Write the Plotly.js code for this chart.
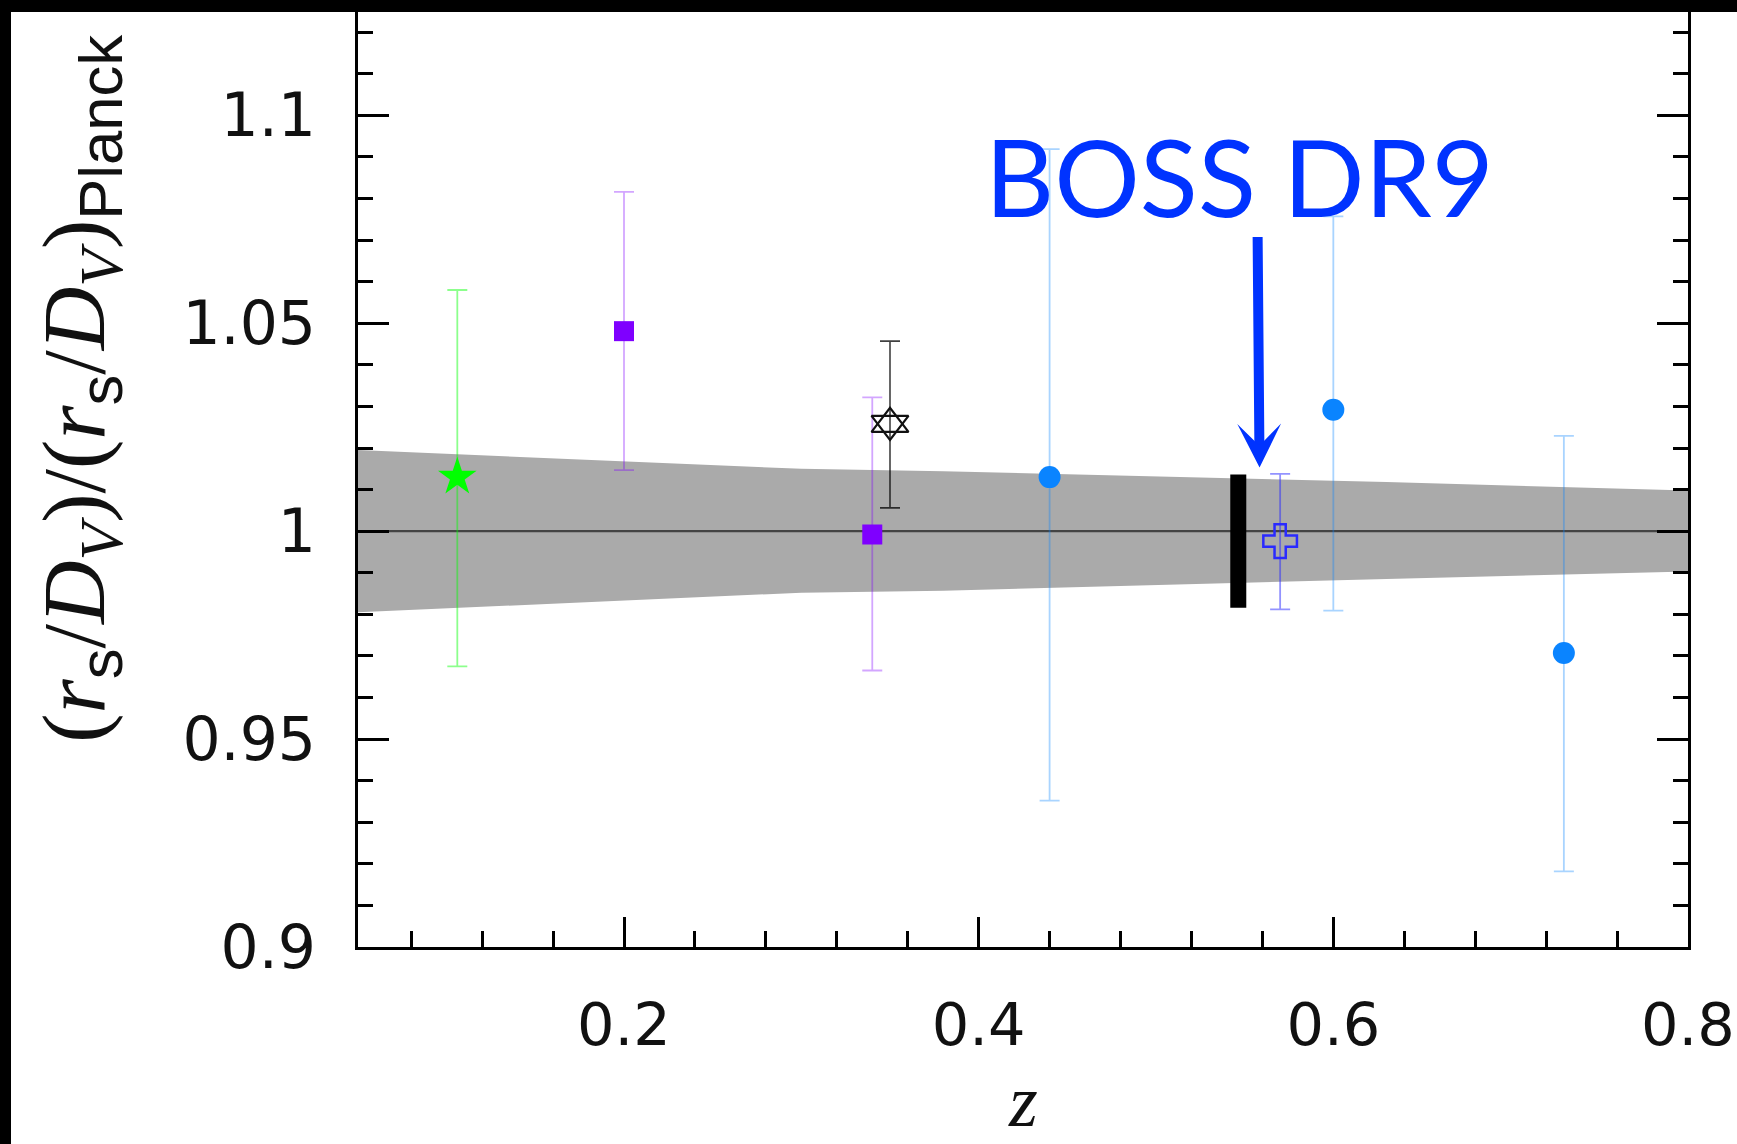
<!DOCTYPE html>
<html><head><meta charset="utf-8">
<script src="https://cdn.plot.ly/plotly-3.0.1.min.js"></script>
<style>
html,body{margin:0;padding:0;background:#000;overflow:hidden;}
#plot{position:absolute;left:0;top:0;width:1737px;height:1144px;}
#bandTop{position:absolute;left:0;top:0;width:1737px;height:12px;background:#000;z-index:10;}
#bandLeft{position:absolute;left:0;top:0;width:11px;height:1144px;background:#000;z-index:10;}
</style></head>
<body>
<div id="plot"></div><div id="bandTop"></div><div id="bandLeft"></div>
<script>
// ---- data ----
// 6dFGS (green star)
const sixdfZ = [0.106];
const sixdfY = [1.0130];
const sixdfErrP = [0.0450];
const sixdfErrM = [0.0455];
// SDSS (purple squares)
const sdssZ = [0.20, 0.34];
const sdssY = [1.0481, 0.9992];
const sdssErrP = [0.0335, 0.0330];
const sdssErrM = [0.0334, 0.0327];
// star of David point
const hexZ = [0.35];
const hexY = [1.0258];
const hexErrP = [0.0199];
const hexErrM = [0.0202];
// WiggleZ (blue circles)
const wigZ = [0.44, 0.60, 0.73];
const wigY = [1.0130, 1.0292, 0.9707];
const wigErrP = [0.0789, 0.0465, 0.0522];
const wigErrM = [0.0778, 0.0483, 0.0525];
// BOSS DR9 (open cross)
const bossZ = [0.57];
const bossY = [0.9976];
const bossErrP = [0.0162];
const bossErrM = [0.0164];
// Planck band
const bandZ = [0.05, 0.30, 0.38, 0.63, 0.80];
const bandUpper = [1.0195, 1.0150, 1.0144, 1.0118, 1.0098];
const bandLower = [0.9805, 0.9852, 0.9857, 0.9885, 0.9903];
const planckZ = [0.05, 0.80];
const planckY = [1.0, 1.0];
// BOSS DR9 forecast bar
const barZ = 0.5464;
const barLow = 0.9816;
const barHigh = 1.0136;
// arrow + label
const arrowTailZ = 0.5573, arrowTailY = 1.0711;
const arrowTipZ = 0.5584, arrowTipY = 1.0153;
const labelZ = 0.5472, labelY = 1.0856;
const labelText = 'BOSS DR9';
// ticks
const xTicks = [0.2, 0.4, 0.6, 0.8];
const xTickText = ['0.2', '0.4', '0.6', '0.8'];
const yTicks = [0.9, 0.95, 1, 1.05, 1.1];
const yTickText = ['0.9', '0.95', '1', '1.05', '1.1'];

const serif = 'Liberation Serif';

const traces = [
  {x: bandZ.concat(bandZ.slice().reverse()), y: bandUpper.concat(bandLower.slice().reverse()),
   mode: 'lines', fill: 'toself', fillcolor: '#aaaaaa', line: {width: 0, color: 'rgba(0,0,0,0)'}, hoverinfo: 'skip'},
  {x: planckZ, y: planckY, mode: 'lines', line: {color: '#444444', width: 2.2}},
  {x: sixdfZ, y: sixdfY, mode: 'markers',
   error_y: {type: 'data', symmetric: false, array: sixdfErrP, arrayminus: sixdfErrM, color: 'rgba(0,255,0,0.45)', thickness: 1.8, width: 10},
   marker: {symbol: 'star', size: 29, color: '#00ff00', line: {width: 0}}},
  {x: sdssZ, y: sdssY, mode: 'markers',
   error_y: {type: 'data', symmetric: false, array: sdssErrP, arrayminus: sdssErrM, color: 'rgba(128,0,255,0.35)', thickness: 1.8, width: 10},
   marker: {symbol: 'square', size: 20, color: '#7f00ff', line: {width: 0}}},
  {x: hexZ, y: hexY, mode: 'markers',
   error_y: {type: 'data', symmetric: false, array: hexErrP, arrayminus: hexErrM, color: 'rgba(0,0,0,0.75)', thickness: 1.6, width: 10},
   marker: {symbol: 'triangle-up-open', size: 32, color: '#111111', line: {width: 2.2}}},
  {x: hexZ, y: hexY, mode: 'markers',
   marker: {symbol: 'triangle-down-open', size: 32, color: '#111111', line: {width: 2.2}}},
  {x: wigZ, y: wigY, mode: 'markers',
   error_y: {type: 'data', symmetric: false, array: wigErrP, arrayminus: wigErrM, color: 'rgba(10,132,255,0.35)', thickness: 1.8, width: 10},
   marker: {symbol: 'circle', size: 22, color: '#0a84ff', line: {width: 0}}},
  {x: bossZ, y: bossY, mode: 'markers',
   error_y: {type: 'data', symmetric: false, array: bossErrP, arrayminus: bossErrM, color: 'rgba(40,40,255,0.5)', thickness: 1.8, width: 10},
   marker: {symbol: 'cross-open', size: 28, color: '#2a2aff', line: {width: 2.5}}}
];

const ytitle = '(<i>r</i><sub><span style="font-family:Liberation Sans">s</span></sub>/<i>D</i><sub><i>V</i></sub>)/(<i>r</i><sub><span style="font-family:Liberation Sans">s</span></sub>/<i>D</i><sub><i>V</i></sub>)<sub><span style="font-family:Liberation Sans">Planck</span></sub>';

const layout = {
  width: 1737, height: 1144,
  margin: {l: 358, r: 49, t: 1, b: 197},
  paper_bgcolor: '#ffffff', plot_bgcolor: '#ffffff',
  showlegend: false, hovermode: false,
  xaxis: {
    range: [0.05, 0.8], showgrid: false, zeroline: false,
    showline: true, linecolor: '#000', linewidth: 3, mirror: false,
    tickmode: 'array', tickvals: xTicks, ticktext: xTickText,
    ticks: 'inside', ticklen: 30, tickwidth: 3, tickcolor: '#000',
    ticklabelstandoff: 24,
    tickfont: {family: 'DejaVu Sans', size: 59, color: '#111'},
    minor: {tickmode: 'linear', tick0: 0.2, dtick: 0.04, ticks: 'inside', ticklen: 16, tickwidth: 3, tickcolor: '#000', showgrid: false}
  },
  yaxis: {
    range: [0.9, 1.1275], showgrid: false, zeroline: false,
    showline: true, linecolor: '#000', linewidth: 3, mirror: 'ticks',
    tickmode: 'array', tickvals: yTicks, ticktext: yTickText,
    ticks: 'inside', ticklen: 31, tickwidth: 3, tickcolor: '#000',
    ticklabelstandoff: 27,
    tickfont: {family: 'DejaVu Sans', size: 60, color: '#111'},
    minor: {tickmode: 'linear', tick0: 0.9, dtick: 0.01, ticks: 'inside', ticklen: 15, tickwidth: 3, tickcolor: '#000', showgrid: false}
  },
  shapes: [
    {type: 'rect', xref: 'x', yref: 'y', xsizemode: 'pixel', xanchor: barZ, x0: -8, x1: 8,
     y0: barLow, y1: barHigh, fillcolor: '#000', line: {width: 0}, layer: 'above'}
  ],
  annotations: [
    {xref: 'x', yref: 'y', x: arrowTipZ, y: arrowTipY, axref: 'x', ayref: 'y', ax: arrowTailZ, ay: arrowTailY,
     text: '', showarrow: true, arrowhead: 3, arrowsize: 0.73, arrowwidth: 10, arrowcolor: '#0033ff', standoff: 0, startstandoff: 0},
    {xref: 'x', yref: 'y', x: labelZ, y: labelY, text: labelText, showarrow: false,
     xanchor: 'center', yanchor: 'middle', font: {family: 'Lato', size: 107, color: '#0033ff'}},
    {xref: 'paper', yref: 'paper', x: (80 - 358) / 1329, y: (947 - 389) / 946, xanchor: 'center', yanchor: 'middle',
     textangle: -90, showarrow: false, text: ytitle, font: {family: serif, size: 88, color: '#111'}},
    {xref: 'paper', yref: 'paper', x: 0.5, y: (947 - 1101) / 946, xanchor: 'center', yanchor: 'middle',
     showarrow: false, text: '<i>z</i>', font: {family: serif, size: 74, color: '#111'}}
  ]
};

Plotly.newPlot('plot', traces, layout, {staticPlot: true, displayModeBar: false});
</script>
</body></html>
